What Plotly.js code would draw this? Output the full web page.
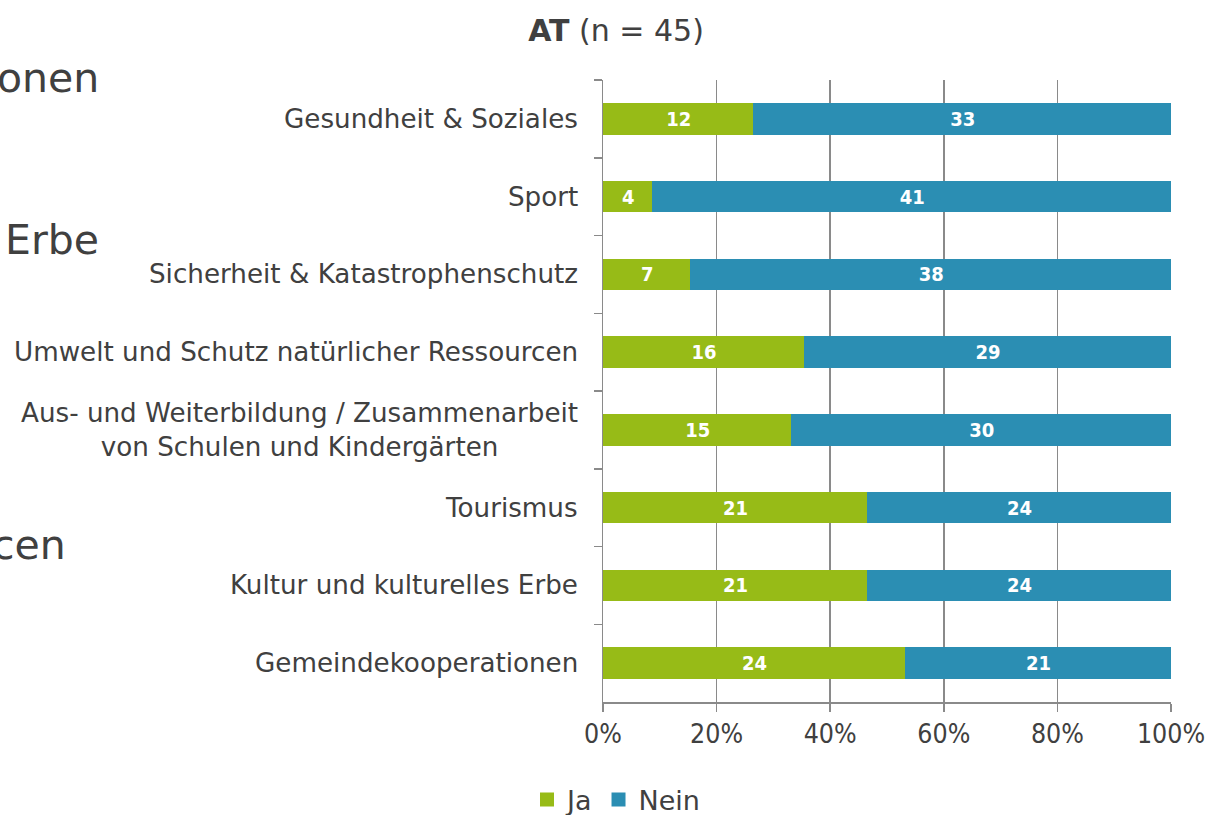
<!DOCTYPE html>
<html><head><meta charset="utf-8">
<script src="https://cdn.plot.ly/plotly-3.0.1.min.js"></script>
<style>html,body{margin:0;padding:0;background:#fff}#chart{width:1210px;height:815px}</style>
</head><body><div id="chart"></div>
<script>
const categories = [
  "Gesundheit & Soziales",
  "Sport",
  "Sicherheit & Katastrophenschutz",
  "Umwelt und Schutz natürlicher Ressourcen",
  "Aus- und Weiterbildung / Zusammenarbeit<br>von Schulen und Kindergärten",
  "Tourismus",
  "Kultur und kulturelles Erbe",
  "Gemeindekooperationen"
];
const jaCounts   = [12, 4, 7, 16, 15, 21, 21, 24];
const neinCounts = [33, 41, 38, 29, 30, 24, 24, 21];
const xTickVals  = [0, 20, 40, 60, 80, 100];
const xTickText  = ["0%", "20%", "40%", "60%", "80%", "100%"];
const backgroundFragments = ["onen", "Erbe", "cen"];

const FONT = "DejaVu Sans, sans-serif";
const FONTC = "DejaVu Sans Condensed, DejaVu Sans, sans-serif";
const TXT = "#404040";
const GREEN = "#97BB17";
const BLUE = "#2B8EB3";

const pct = (a, i) => a[i] / (jaCounts[i] + neinCounts[i]) * 100;

const traces = [
  {name: "Ja", counts: jaCounts, color: GREEN},
  {name: "Nein", counts: neinCounts, color: BLUE}
].map(s => ({
  type: "bar", orientation: "h", name: s.name,
  y: categories,
  x: s.counts.map((v, i) => pct(s.counts, i)),
  text: s.counts.map(String),
  textposition: "inside", insidetextanchor: "middle",
  textangle: 0, constraintext: "none",
  textfont: {family: FONTC, size: 20, color: "#ffffff"},
  texttemplate: "<b>%{text}</b>",
  marker: {color: s.color, line: {width: 2, color: s.color}},
  hoverinfo: "skip"
}));

const annotations = categories.map(c => ({
  xref: "paper", yref: "y", x: -0.042, y: c,
  xanchor: "right", yanchor: "middle", align: "center",
  text: c, showarrow: false, borderpad: 0,
  font: {family: FONT, size: 26.2, color: TXT}
}));
const fragPos = [[100, 78], [100, 240], [67, 545]];
backgroundFragments.forEach((t, i) => annotations.push({
  xref: "paper", yref: "paper",
  x: (fragPos[i][0] - 603) / 568, y: (702 - fragPos[i][1]) / 622,
  xanchor: "right", yanchor: "middle", text: t, showarrow: false, borderpad: 0,
  font: {family: FONT, size: 41, color: TXT}
}));

const layout = {
  width: 1210, height: 815,
  margin: {l: 603, r: 39, t: 80, b: 113, pad: 0},
  paper_bgcolor: "#fff", plot_bgcolor: "#fff",
  barmode: "stack", bargap: 0.62,
  font: {family: FONT, color: TXT},
  title: {text: "<b>AT</b> (n = 45)", x: 616 / 1210, xref: "container", xanchor: "center",
          y: 1 - 30 / 815, yref: "container", yanchor: "middle",
          font: {family: FONT, size: 30, color: TXT}},
  xaxis: {range: [0, 100], tickvals: xTickVals, ticktext: xTickText,
          showgrid: true, gridcolor: "#8a8a8a", gridwidth: 1.5,
          showline: true, linecolor: "#8a8a8a", linewidth: 1.5,
          ticks: "outside", ticklen: 8, tickcolor: "#8a8a8a", tickwidth: 1.5,
          tickfont: {family: FONTC, size: 26.5, color: TXT}, zeroline: false, fixedrange: true},
  yaxis: {type: "category", categoryorder: "array", categoryarray: categories,
          autorange: "reversed", showticklabels: false,
          showline: true, linecolor: "#8a8a8a", linewidth: 1.5,
          ticks: "outside", tickson: "boundaries", ticklen: 8, tickcolor: "#8a8a8a", tickwidth: 1.5,
          showgrid: false, fixedrange: true},
  showlegend: true,
  legend: {orientation: "h", x: 527 / 1210, xref: "container", xanchor: "left",
           y: 1 - 800 / 815, yref: "container", yanchor: "middle",
           font: {family: FONT, size: 27, color: TXT}, itemwidth: 30, traceorder: "normal"},
  annotations: annotations
};

Plotly.newPlot("chart", traces, layout, {displayModeBar: false, staticPlot: true});
</script></body></html>
